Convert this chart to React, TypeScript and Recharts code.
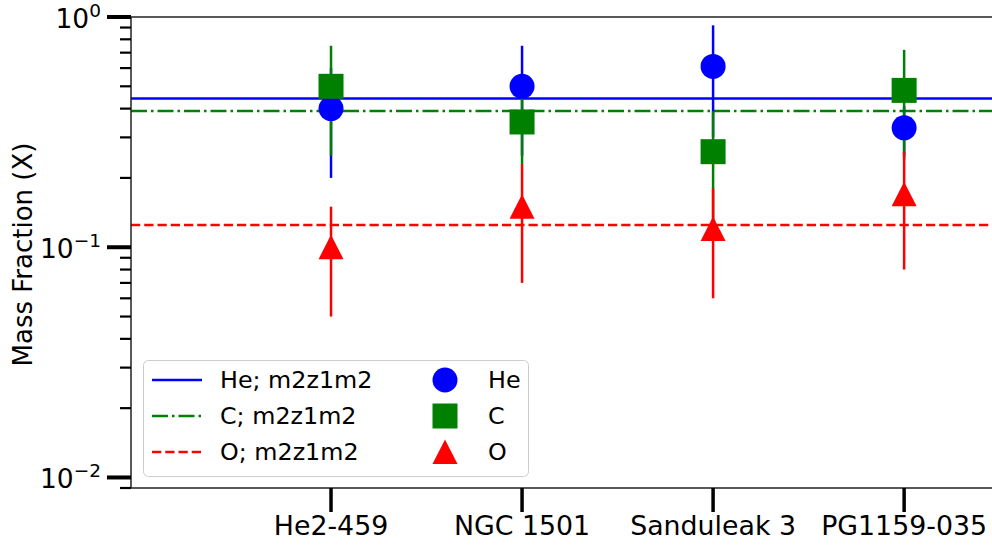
import React from 'react';
import { ScatterChart, Scatter, XAxis, YAxis, ErrorBar, ReferenceLine } from 'recharts';

// Central stars of planetary nebulae and their surface abundances
const stars = ['He2-459', 'NGC 1501', 'Sanduleak 3', 'PG1159-035'];
const heValues = [0.40, 0.50, 0.61, 0.33];
const heErrors = [0.20, 0.25, 0.31, 0.08];
const cValues = [0.50, 0.35, 0.26, 0.48];
const cErrors = [0.25, 0.12, 0.13, 0.24];
const oValues = [0.10, 0.15, 0.12, 0.17];
const oErrors = [0.05, 0.08, 0.06, 0.09];

// Model m2z1m2 surface mass fractions
const modelHe = 0.443;
const modelC = 0.391;
const modelO = 0.125;

const yMajorTicks = [0.01, 0.1, 1];
const yMinorTicks = [0.009, 0.02, 0.03, 0.04, 0.05, 0.06, 0.07, 0.08, 0.09, 0.2, 0.3, 0.4, 0.5, 0.6, 0.7, 0.8, 0.9];
const yExponentLabels = ['\u22122', '\u22121', '0'];
const xPositions = [1, 2, 3, 4];

const BLUE = '#0000ff';
const GREEN = '#008000';
const RED = '#ff0000';
const FONT = '"DejaVu Sans", sans-serif';

const build = (vals: number[], errs: number[]) =>
  vals.map((v, i) => ({ x: xPositions[i], y: v, err: errs[i] }));

const heData = build(heValues, heErrors);
const cData = build(cValues, cErrors);
const oData = build(oValues, oErrors);

const Empty = () => <g />;

const CircleMark = (p: any) => <circle cx={p.cx} cy={p.cy} r={12.5} fill={BLUE} />;
const SquareMark = (p: any) => <rect x={p.cx - 12.5} y={p.cy - 12.5} width={25} height={25} fill={GREEN} />;
const TriangleMark = (p: any) => (
  <polygon points={`${p.cx},${p.cy - 12.5} ${p.cx - 12.5},${p.cy + 12} ${p.cx + 12.5},${p.cy + 12}`} fill={RED} />
);

const YTick = (props: any) => {
  const { x, y, payload } = props;
  const v = payload.value;
  const idx = yMajorTicks.indexOf(v);
  if (idx < 0) {
    return <line x1={x - 11} x2={x} y1={y} y2={y} stroke="#000" strokeWidth={2.2} />;
  }
  return (
    <g>
      <line x1={x - 24} x2={x} y1={y} y2={y} stroke="#000" strokeWidth={4} />
      <text x={x - 30} y={y + 11} textAnchor="end" fontFamily={FONT} fontSize={26.5} fill="#000">
        10
        <tspan fontSize={18.5} dy={-11}>{yExponentLabels[idx]}</tspan>
      </text>
    </g>
  );
};

const XTick = (props: any) => {
  const { x, y, payload } = props;
  const idx = xPositions.indexOf(payload.value);
  return (
    <g>
      <line x1={x} x2={x} y1={y} y2={y + 24} stroke="#000" strokeWidth={3.5} />
      <text x={x} y={y + 47} textAnchor="middle" fontFamily={FONT} fontSize={26.8} fill="#000">
        {stars[idx]}
      </text>
    </g>
  );
};

const YTitle = (props: any) => {
  const vb = props.viewBox;
  const cx = 23;
  const cy = vb.y + vb.height / 2 + 2;
  return (
    <text
      x={cx}
      y={cy}
      transform={`rotate(-90, ${cx}, ${cy})`}
      textAnchor="middle"
      dominantBaseline="central"
      fontFamily={FONT}
      fontSize={26}
      fill="#000"
    >
      Mass Fraction (X)
    </text>
  );
};

const legendLines = [
  { label: 'He; m2z1m2', color: BLUE, dash: undefined as string | undefined },
  { label: 'C; m2z1m2', color: GREEN, dash: '16 4 2.5 4' },
  { label: 'O; m2z1m2', color: RED, dash: '9.25 4' },
];
const legendMarkers = [
  { label: 'He', color: BLUE, kind: 'circle' },
  { label: 'C', color: GREEN, kind: 'square' },
  { label: 'O', color: RED, kind: 'triangle' },
];

const ChartLegend = () => {
  const rowY = [20, 56, 92];
  return (
    <svg
      width={386}
      height={117}
      style={{ position: 'absolute', left: 143, top: 360, overflow: 'visible' }}
    >
      <rect x={0.5} y={0.5} width={385} height={116} rx={5} ry={5} fill="rgba(255,255,255,0.85)" stroke="#cccccc" strokeWidth={1} />
      {legendLines.map((l, i) => (
        <g key={l.label}>
          <line x1={9} x2={59} y1={rowY[i]} y2={rowY[i]} stroke={l.color} strokeWidth={2.5} strokeDasharray={l.dash} />
          <text x={77} y={rowY[i]} dominantBaseline="central" fontFamily={FONT} fontSize={23.8} fill="#000">
            {l.label}
          </text>
        </g>
      ))}
      {legendMarkers.map((m, i) => {
        const cx = 302;
        const cy = rowY[i];
        let mark;
        if (m.kind === 'circle') mark = <circle cx={cx} cy={cy} r={12.5} fill={m.color} />;
        else if (m.kind === 'square') mark = <rect x={cx - 12.5} y={cy - 12.5} width={25} height={25} fill={m.color} />;
        else mark = <polygon points={`${cx},${cy - 12.5} ${cx - 12.5},${cy + 12} ${cx + 12.5},${cy + 12}`} fill={m.color} />;
        return (
          <g key={m.label}>
            {mark}
            <text x={345} y={cy} dominantBaseline="central" fontFamily={FONT} fontSize={23.8} fill="#000">
              {m.label}
            </text>
          </g>
        );
      })}
    </svg>
  );
};

export default function App() {
  return (
    <div style={{ position: 'absolute', left: 0, top: 0, width: 992, height: 545, background: '#fff' }}>
      <ScatterChart width={992} height={545} margin={{ top: 17, right: 0, bottom: 0, left: 0 }}>
        <XAxis
          type="number"
          dataKey="x"
          domain={[-0.047, 4.46]}
          ticks={xPositions}
          allowDataOverflow
          height={57}
          tickSize={0}
          tickMargin={0}
          tickLine={false}
          tick={<XTick />}
          axisLine={{ stroke: '#222', strokeWidth: 1.5 }}
          interval={0}
        />
        <YAxis
          type="number"
          dataKey="y"
          scale="log"
          domain={[0.009, 1]}
          ticks={[...yMinorTicks, ...yMajorTicks]}
          allowDataOverflow
          width={131}
          tickSize={0}
          tickMargin={0}
          tickLine={false}
          tick={<YTick />}
          axisLine={{ stroke: '#222', strokeWidth: 1.5 }}
          interval={0}
          label={<YTitle />}
        />
        <ReferenceLine y={1} stroke="#222" strokeWidth={1.5} />
        <ReferenceLine y={modelHe} stroke={BLUE} strokeWidth={2.5} />
        <ReferenceLine y={modelC} stroke={GREEN} strokeWidth={2.5} strokeDasharray="16 4 2.5 4" />
        <ReferenceLine y={modelO} stroke={RED} strokeWidth={2.5} strokeDasharray="9.25 4" />

        <Scatter data={heData} shape={<Empty />} isAnimationActive={false}>
          <ErrorBar dataKey="err" direction="y" width={0} stroke={BLUE} strokeWidth={2.5} isAnimationActive={false} />
        </Scatter>
        <Scatter data={cData} shape={<Empty />} isAnimationActive={false}>
          <ErrorBar dataKey="err" direction="y" width={0} stroke={GREEN} strokeWidth={2.5} isAnimationActive={false} />
        </Scatter>
        <Scatter data={oData} shape={<Empty />} isAnimationActive={false}>
          <ErrorBar dataKey="err" direction="y" width={0} stroke={RED} strokeWidth={2.5} isAnimationActive={false} />
        </Scatter>

        <Scatter data={heData} shape={<CircleMark />} isAnimationActive={false} />
        <Scatter data={cData} shape={<SquareMark />} isAnimationActive={false} />
        <Scatter data={oData} shape={<TriangleMark />} isAnimationActive={false} />
      </ScatterChart>
      <ChartLegend />
    </div>
  );
}
